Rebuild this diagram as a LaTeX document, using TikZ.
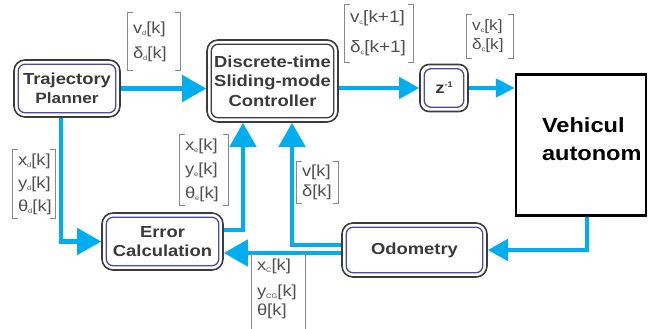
\documentclass[tikz,border=0pt]{standalone}
\usepackage{fontspec}
\setmainfont{Liberation Sans}[FakeStretch=1.15]
\usetikzlibrary{arrows.meta,calc}
\definecolor{cy}{HTML}{00AEEF}
\definecolor{boxline}{HTML}{3C3C3C}
\definecolor{innerblue}{HTML}{4A4AA8}
\definecolor{txt}{HTML}{3A3A3A}
\definecolor{lbl}{HTML}{505050}
\definecolor{brk}{HTML}{8A8A8A}
\newcommand\lsub[1]{\raisebox{-0.25ex}{\fontsize{6.5}{6.5}\selectfont #1}}
\newcommand\innerframe[2]{\draw[#2, line width=1.3pt, rounded corners=7pt] ([shift={(5pt,-5pt)}]#1.north west) rectangle ([shift={(-5pt,5pt)}]#1.south east);}
\newcommand\brackets[1]{\draw[brkline] ([xshift=5pt]#1.north west) -- (#1.north west) -- (#1.south west) -- ([xshift=5pt]#1.south west) ([xshift=-5pt]#1.north east) -- (#1.north east) -- (#1.south east) -- ([xshift=-5pt]#1.south east);}
\begin{document}
\begin{tikzpicture}[x=1pt,y=-1pt,
  blk/.style={draw=boxline, line width=1.6pt, rounded corners=11pt, fill=white, text=txt,
    font=\bfseries\fontsize{16}{19.5}\selectfont, align=center, inner sep=0pt},
  flow/.style={cy, line width=4.5pt, line join=miter, -{Triangle[length=24pt,width=26pt]}},
  small/.style={-{Triangle[length=20pt,width=21pt]}},
  lab/.style={inner xsep=5pt, inner ysep=0pt, text=lbl, align=left},
  brkline/.style={brk, line width=0.9pt}]
\useasboundingbox (0,0) rectangle (650,329);
\clip (0,0) rectangle (650,329);

% blocks
\node[blk, minimum width=106pt, minimum height=57pt] (tp) at (67,88.5)
  {\fontsize{16}{19}\selectfont Trajectory\\\fontsize{15}{19}\selectfont Planner};
\node[blk, minimum width=131pt, minimum height=82pt] (ctrl) at (272.5,81)
  {Discrete-time\\Sliding-mode\\Controller};
\node[blk, minimum width=48pt, minimum height=47pt, rounded corners=9pt,
  font=\bfseries\fontsize{16}{18}\selectfont] (z) at (444,88)
  {z\raisebox{0.7ex}{\fontsize{8}{8}\selectfont -1}};
\node[draw=black, line width=2.5pt, minimum width=130pt, minimum height=141pt,
  text width=78pt, inner xsep=26pt, inner ysep=0pt, align=left, text depth=39pt,
  font=\bfseries\fontsize{20.5}{28}\selectfont] (veh) at (581,145)
  {Vehicul\\autonom};
\node[blk, minimum width=121pt, minimum height=57pt] (err) at (162.5,241.5)
  {Error\\Calculation};
\node[blk, minimum width=145pt, minimum height=54pt] (odo) at (414.5,250)
  {Odometry};

\innerframe{tp}{innerblue}
\innerframe{ctrl}{boxline}
\innerframe{z}{innerblue}
\innerframe{err}{innerblue}
\innerframe{odo}{innerblue}

% connectors
\draw[flow] (tp.east) -- (tp.east -| ctrl.west);
\draw[flow, small] (ctrl.east |- z.west) -- (z.west);
\draw[flow, -{Triangle[length=19pt,width=18pt]}] (z.east) -- (z.east -| veh.west);
\draw[flow, small] ([xshift=6pt]veh.south) |- (odo.east);
\draw[flow] ([yshift=5pt]odo.west) -| ($(ctrl.south)+(19.5,0)$);
\draw[flow] ([yshift=-3pt]odo.west) -- ([yshift=-3pt]odo.west -| err.east);
\draw[flow] ([yshift=11.5pt]err.east) -| ($(ctrl.south)+(-29.5,0)$);
\draw[flow] ([xshift=-6pt]tp.south) |- (err.west);

% labels
\node[lab, text width=42pt, minimum height=57pt, font=\fontsize{16}{25}\selectfont] (Lvd) at (154,41.5)
  {v\lsub{d}[k]\\δ\lsub{d}[k]};
\node[lab, text width=58pt, minimum height=57pt, font=\fontsize{16.5}{30}\selectfont] (Lvc1) at (379,33.5)
  {v\lsub{c}[k+1]\\δ\lsub{c}[k+1]};
\node[lab, text width=36pt, minimum height=43pt, font=\fontsize{15}{19}\selectfont] (Lvc) at (490,36.5)
  {v\lsub{c}[k]\\δ\lsub{c}[k]};
\node[lab, text width=32pt, minimum height=68pt, font=\fontsize{16}{23}\selectfont] (Lxd) at (34,184)
  {x\lsub{d}[k]\\y\lsub{d}[k]\\θ\lsub{d}[k]};
\node[lab, text width=38pt, minimum height=70pt, font=\fontsize{16}{24}\selectfont] (Lxe) at (204,170)
  {x\lsub{e}[k]\\y\lsub{e}[k]\\θ\lsub{e}[k]};
\node[lab, text width=31pt, minimum height=41pt, font=\fontsize{16}{20}\selectfont] (Lvk) at (317.5,182.5)
  {v[k]\\δ[k]};
\node[lab, text width=43pt, minimum height=80pt, text depth=61pt, font=\fontsize{16}{19}\selectfont] (Lxc) at (278.5,295)
  {x\lsub{C}[k]\\[7pt]y\lsub{CG}[k]\\θ[k]};

\brackets{Lvd}
\brackets{Lvc1}
\brackets{Lvc}
\brackets{Lxd}
\brackets{Lxe}
\brackets{Lvk}
\brackets{Lxc}
\end{tikzpicture}
\end{document}
